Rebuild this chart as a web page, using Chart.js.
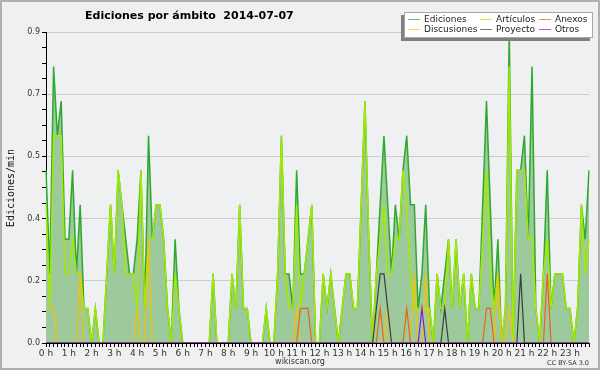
<!DOCTYPE html>
<html><head><meta charset="utf-8">
<script src="https://cdn.jsdelivr.net/npm/chart.js"></script>
<style>html,body{margin:0;padding:0;background:#f0f0f0;}canvas{display:block}</style>
</head><body>
<canvas id="c" width="600" height="370"></canvas>
<script>
const hourLabels = ['0 h','1 h','2 h','3 h','4 h','5 h','6 h','7 h','8 h','9 h','10 h','11 h',
  '12 h','13 h','14 h','15 h','16 h','17 h','18 h','19 h','20 h','21 h','22 h','23 h'];
const yTickLabels = ['0.0','0.2','0.4','0.5','0.7','0.9'];
const times = [];
for (let h = 0; h < 24; h++) for (let m = 0; m < 60; m += 10)
  times.push(String(h).padStart(2,'0') + ':' + String(m).padStart(2,'0'));

const ediciones = [
  0.5,0.2,0.8,0.6,0.7,0.3,0.3,0.5,0.2,0.4,0.1,0.1,
  0,0.1,0,0,0.2,0.4,0.2,0.5,0.4,0.3,0.2,0.2,
  0.3,0.5,0.1,0.6,0.3,0.4,0.4,0.3,0.1,0,0.3,0.1,
  0,0,0,0,0,0,0,0,0.2,0,0,0,
  0,0.2,0.1,0.4,0.1,0.1,0,0,0,0,0.1,0,
  0,0.2,0.6,0.2,0.2,0.1,0.5,0.2,0.2,0.3,0.4,0,
  0,0.2,0.1,0.2,0.1,0,0.1,0.2,0.2,0.1,0.1,0.4,
  0.7,0.3,0,0.2,0.4,0.6,0.4,0.2,0.4,0.3,0.5,0.6,
  0.4,0.4,0.1,0.2,0.4,0.1,0,0.2,0.1,0.2,0.3,0.1,
  0.3,0.1,0.2,0,0.2,0.1,0.1,0.4,0.7,0.4,0.1,0.3,
  0,0.1,0.9,0,0.5,0.5,0.6,0.3,0.8,0.1,0,0.2,
  0.5,0.1,0.2,0.2,0.2,0.1,0.1,0,0.1,0.4,0.3,0.5
];
const articulos = [
  0.4,0.1,0.6,0.6,0.6,0.2,0.2,0.3,0.2,0.2,0.1,0.1,
  0,0.1,0,0,0.2,0.4,0.2,0.5,0.4,0.2,0.2,0.2,
  0.1,0.5,0.1,0.3,0.3,0.4,0.4,0.3,0.1,0,0.2,0.1,
  0,0,0,0,0,0,0,0,0.2,0,0,0,
  0,0.2,0.1,0.4,0.1,0.1,0,0,0,0,0.1,0,
  0,0.2,0.6,0.2,0.1,0.1,0.4,0.1,0.2,0.3,0.4,0,
  0,0.2,0.1,0.2,0.1,0,0.1,0.2,0.2,0.1,0.1,0.4,
  0.7,0.3,0,0.2,0.3,0.4,0.2,0.2,0.3,0.3,0.5,0.4,
  0.2,0.1,0.1,0.1,0.1,0.1,0,0.2,0.1,0.1,0.3,0.1,
  0.3,0.1,0.2,0,0.2,0.1,0.1,0.3,0.5,0.2,0.1,0.2,
  0,0.1,0.8,0,0.5,0.5,0.5,0.3,0.3,0.1,0,0.2,
  0.3,0.1,0.2,0.2,0.2,0.1,0.1,0,0.1,0.4,0.2,0.3
];
const discusiones = [
  0.1,0.1,0.1,0,0,0,0,0,0,0.2,0,0,
  0,0,0,0,0,0,0,0,0,0,0,0,
  0.1,0,0,0.3,0,0,0,0,0,0,0,0,
  0,0,0,0,0,0,0,0,0,0,0,0,
  0,0,0,0,0,0,0,0,0,0,0,0,
  0,0,0,0,0,0,0.1,0,0,0,0,0,
  0,0,0,0,0,0,0,0,0,0,0,0,
  0,0,0,0,0,0,0.1,0,0,0,0,0,
  0,0.2,0,0,0.2,0,0,0,0,0,0,0,
  0,0,0,0,0,0,0,0,0,0,0,0.2,
  0,0,0.1,0,0,0,0,0,0,0,0,0,
  0,0,0,0,0,0,0,0,0,0,0,0
];
const anexos = [
  0,0,0,0,0,0,0,0,0,0,0,0,
  0,0,0,0,0,0,0,0,0,0,0,0,
  0,0,0,0,0,0,0,0,0,0,0,0,
  0,0,0,0,0,0,0,0,0,0,0,0,
  0,0,0,0,0,0,0,0,0,0,0,0,
  0,0,0,0,0,0,0,0.1,0.1,0.1,0,0,
  0,0,0,0,0,0,0,0,0,0,0,0,
  0,0,0,0,0.1,0,0,0,0,0,0,0.1,
  0,0,0,0,0,0,0,0,0,0,0,0,
  0,0,0,0,0,0,0,0,0.1,0.1,0,0,
  0,0,0,0,0,0,0,0,0,0,0,0,
  0.2,0,0,0,0,0,0,0,0,0,0,0
];
const proyecto = [
  0,0,0,0,0,0,0,0,0,0,0,0,
  0,0,0,0,0,0,0,0,0,0,0,0,
  0,0,0,0,0,0,0,0,0,0,0,0,
  0,0,0,0,0,0,0,0,0,0,0,0,
  0,0,0,0,0,0,0,0,0,0,0,0,
  0,0,0,0,0,0,0,0,0,0,0,0,
  0,0,0,0,0,0,0,0,0,0,0,0,
  0,0,0,0.1,0.2,0.2,0.1,0,0,0,0,0,
  0,0,0,0,0,0,0,0,0,0.1,0,0,
  0,0,0,0,0,0,0,0,0,0,0,0,
  0,0,0,0,0,0.2,0,0,0,0,0,0,
  0,0,0,0,0,0,0,0,0,0,0,0
];
const otros = [
  0,0,0,0,0,0,0,0,0,0,0,0,
  0,0,0,0,0,0,0,0,0,0,0,0,
  0,0,0,0,0,0,0,0,0,0,0,0,
  0,0,0,0,0,0,0,0,0,0,0,0,
  0,0,0,0,0,0,0,0,0,0,0,0,
  0,0,0,0,0,0,0,0,0,0,0,0,
  0,0,0,0,0,0,0,0,0,0,0,0,
  0,0,0,0,0,0,0,0,0,0,0,0,
  0,0,0,0.1,0,0,0,0,0,0,0,0,
  0,0,0,0,0,0,0,0,0,0,0,0,
  0,0,0,0,0,0,0,0,0,0,0,0,
  0,0,0,0,0,0,0,0,0,0,0,0
];

const titleText = 'Ediciones por ámbito  2014-07-07';
const yTitle = 'Ediciones/min';
const siteText = 'wikiscan.org';
const licenseText = 'CC BY-SA 3.0';

const C = {
  ediciones: '#2ea82e', fill: '#9dca9d', articulos: '#a4ea00',
  discusiones: '#f4c300', anexos: '#f06018', proyecto: '#3c3c3c', otros: '#7a1cf0'
};
const legendItems = [
  {name:'Ediciones', color:C.ediciones, col:0, row:0},
  {name:'Artículos', color:C.articulos, col:1, row:0},
  {name:'Anexos', color:C.anexos, col:2, row:0},
  {name:'Discusiones', color:C.discusiones, col:0, row:1},
  {name:'Proyecto', color:C.proyecto, col:1, row:1},
  {name:'Otros', color:C.otros, col:2, row:1}
];

const deco = {
  id: 'deco',
  beforeDraw(chart) {
    const ctx = chart.ctx, a = chart.chartArea;
    ctx.save();
    ctx.fillStyle = '#f0f0f0';
    ctx.fillRect(0, 0, chart.width, chart.height);
    ctx.fillStyle = '#eff0f2';
    ctx.fillRect(a.left, a.top, a.right - a.left, a.bottom - a.top);
    ctx.restore();
  },
  afterDraw(chart) {
    const ctx = chart.ctx;
    ctx.save();
    // title
    ctx.fillStyle = '#000';
    ctx.font = 'bold 11px "DejaVu Sans"';
    ctx.textAlign = 'left';
    ctx.textBaseline = 'alphabetic';
    ctx.fillText(titleText, 85, 19);
    // y title
    ctx.save();
    ctx.translate(14, 188);
    ctx.rotate(-Math.PI / 2);
    ctx.textAlign = 'center';
    ctx.font = '10px "DejaVu Sans Mono"';
    ctx.fillStyle = '#111';
    ctx.fillText(yTitle, 0, 0);
    ctx.restore();
    // footer
    ctx.fillStyle = '#333';
    ctx.font = '8px "DejaVu Sans"';
    ctx.textAlign = 'center';
    ctx.fillText(siteText, 300, 364);
    ctx.font = '6.5px "DejaVu Sans"';
    ctx.textAlign = 'right';
    ctx.fillText(licenseText, 589, 365);
    // legend
    ctx.fillStyle = '#808080';
    ctx.fillRect(401, 15, 189, 26);
    ctx.fillStyle = '#ffffff';
    ctx.fillRect(404, 12, 189, 26);
    ctx.strokeStyle = '#a8a8a8';
    ctx.lineWidth = 1;
    ctx.strokeRect(404.5, 12.5, 188, 25);
    const lineX = [408, 480, 539], textX = [424, 496, 555], rowY = [19.5, 29.5];
    ctx.font = '9px "DejaVu Sans"';
    ctx.textAlign = 'left';
    ctx.textBaseline = 'middle';
    legendItems.forEach(it => {
      ctx.strokeStyle = it.color;
      ctx.globalAlpha = 0.7;
      ctx.beginPath();
      ctx.moveTo(lineX[it.col], rowY[it.row]);
      ctx.lineTo(lineX[it.col] + 12, rowY[it.row]);
      ctx.stroke();
      ctx.globalAlpha = 1;
      ctx.fillStyle = '#222';
      ctx.fillText(it.name, textX[it.col], rowY[it.row]);
    });
    // frame
    ctx.strokeStyle = '#b0b0b0';
    ctx.lineWidth = 2;
    ctx.strokeRect(1, 1, chart.width - 2, chart.height - 2);
    ctx.restore();
  }
};

new Chart(document.getElementById('c'), {
  type: 'line',
  data: {
    labels: times,
    datasets: [
      {label:'Ediciones', data:ediciones, borderColor:C.ediciones, backgroundColor:C.fill, fill:'origin', borderWidth:1.5, order:6},
      {label:'Artículos', data:articulos, borderColor:C.articulos, fill:false, borderWidth:1.5, order:5},
      {label:'Discusiones', data:discusiones, borderColor:C.discusiones, fill:false, borderWidth:1.2, order:4},
      {label:'Anexos', data:anexos, borderColor:C.anexos, fill:false, borderWidth:1.2, order:3},
      {label:'Proyecto', data:proyecto, borderColor:C.proyecto, fill:false, borderWidth:1.2, order:2},
      {label:'Otros', data:otros, borderColor:C.otros, fill:false, borderWidth:1.2, order:1}
    ]
  },
  options: {
    responsive: false,
    animation: false,
    devicePixelRatio: 1,
    layout: {padding: {left: 0, right: 11, top: 32, bottom: 0}},
    elements: {point: {radius: 0}, line: {tension: 0}},
    plugins: {legend: {display: false}, tooltip: {enabled: false}, title: {display: false}},
    scales: {
      x: {
        type: 'category', offset: false, z: 1,
        grid: {drawOnChartArea: false, tickLength: 4, tickColor: '#000', color: '#000'},
        border: {color: '#000', width: 1},
        ticks: {autoSkip: false, maxRotation: 0, minRotation: 0, padding: 1, color: '#333',
          font: {family: 'DejaVu Sans', size: 9},
          callback: (v, i) => i % 6 === 0 ? hourLabels[i / 6] : ''},
        afterFit(s) { s.height = 27; }
      },
      y: {
        min: 0, max: 0.9,
        grid: {color: (c) => (c.index % 4 === 0 && c.index > 0) ? '#cccccc' : 'rgba(0,0,0,0)',
          tickColor: '#000', tickLength: 4},
        border: {color: '#000', width: 1},
        ticks: {stepSize: 0.045, maxTicksLimit: 30, autoSkip: false, padding: 2, color: '#333',
          font: {family: 'DejaVu Sans', size: 8},
          callback: (v, i) => i % 4 === 0 ? yTickLabels[i / 4] : ''},
        afterFit(s) { s.width = 46; }
      }
    }
  },
  plugins: [deco]
});
</script>
</body></html>
